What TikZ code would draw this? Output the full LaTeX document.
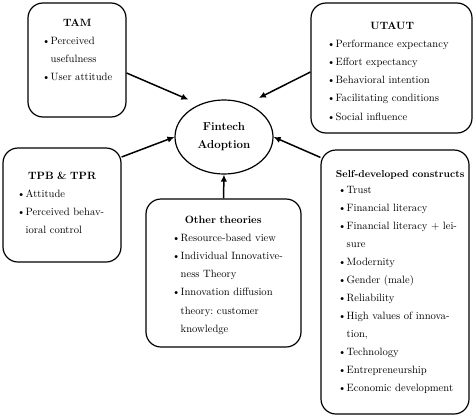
\documentclass[tikz,border=0pt]{standalone}
\usetikzlibrary{arrows.meta,shapes.geometric}
\frenchspacing
\newlength\bulw \setlength\bulw{8.5pt}
\newcommand\bitem[1]{\par\noindent\makebox[\bulw][l]{\textbullet}\mbox{#1}}
\newcommand\bcont[1]{\par\noindent\hspace*{\bulw}\mbox{#1}}
\newcommand\boxtitle[1]{\frenchspacing\hfuzz=40pt\hbadness=10000\noindent\makebox[\hsize]{\bfseries #1}}
\begin{document}
\begin{tikzpicture}[x=1pt,y=-1pt,
  box/.style={draw, line width=1.2pt, rounded corners=15pt, inner sep=0pt, rectangle},
  txt/.style={anchor=base west, inner sep=0pt, font=\fontsize{10.6}{18.2}\selectfont},
  arr/.style={line width=1.5pt, -{Latex[length=7pt,width=6.5pt]}}]
\useasboundingbox (0,0) rectangle (474,418);
% boxes
\node[box, minimum width=98pt, minimum height=114pt] (tam) at (77,60) {};
\node[box, minimum width=161pt, minimum height=130pt] (ut) at (391.5,68) {};
\node[box, minimum width=118pt, minimum height=114pt] (tpb) at (62,205) {};
\node[box, minimum width=155pt, minimum height=148pt] (ot) at (223.5,273) {};
\node[box, minimum width=148pt, minimum height=264pt] (sd) at (395,282) {};
\node[draw, ellipse, line width=1.2pt, minimum width=98pt, minimum height=74pt, inner sep=0pt,
      align=center, font=\fontsize{11.5}{18}\selectfont\bfseries] (fa) at (224,137) {Fintech\\Adoption};
% texts
\node[txt, text width=70pt] (tamtext) at (42,26) {\boxtitle{TAM}\bitem{Perceived}\bcont{usefulness}\bitem{User attitude}\par};
\node[txt, text width=130pt] (uttext) at (327,29) {\boxtitle{UTAUT}\bitem{Performance expectancy}\bitem{Effort expectancy}\bitem{Behavioral intention}\bitem{Facilitating conditions}\bitem{Social influence}\par};
\node[txt, text width=90pt] (tpbtext) at (17,179) {\boxtitle{TPB \& TPR}\bitem{Attitude}\bitem{Perceived behav-}\bcont{ioral control}\par};
\node[txt, text width=102pt] (ottext) at (172,223) {\boxtitle{Other theories}\bitem{Resource-based view}\bitem{Individual Innovative-}\bcont{ness Theory}\bitem{Innovation diffusion}\bcont{theory: customer}\bcont{knowledge}\par};
\node[txt, text width=124pt, font=\fontsize{10.6}{18}\selectfont] (sdtext) at (338,177) {\boxtitle{\fontsize{10.1}{18}\selectfont Self-developed constructs}\par\vspace{-2pt}\bitem{Trust}\bitem{Financial literacy}\bitem{Financial literacy + lei-}\bcont{sure}\bitem{Modernity}\bitem{Gender (male)}\bitem{Reliability}\bitem{High values of innova-}\bcont{tion,}\bitem{Technology}\bitem{Entrepreneurship}\bitem{Economic development}\par};
% arrows
\draw[arr, shorten >=12pt] ([yshift=-13pt]tam.east) -- (fa.127);
\draw[arr, shorten >=13pt] ([yshift=-4pt]ut.west) -- (fa.55);
\draw[arr] ([yshift=48pt]tpb.east) -- (fa.west);
\draw[arr] ([yshift=-8pt]sd.north west) -- (fa.east);
\draw[arr] (ot.north) -- (fa.south);
\end{tikzpicture}
\end{document}
